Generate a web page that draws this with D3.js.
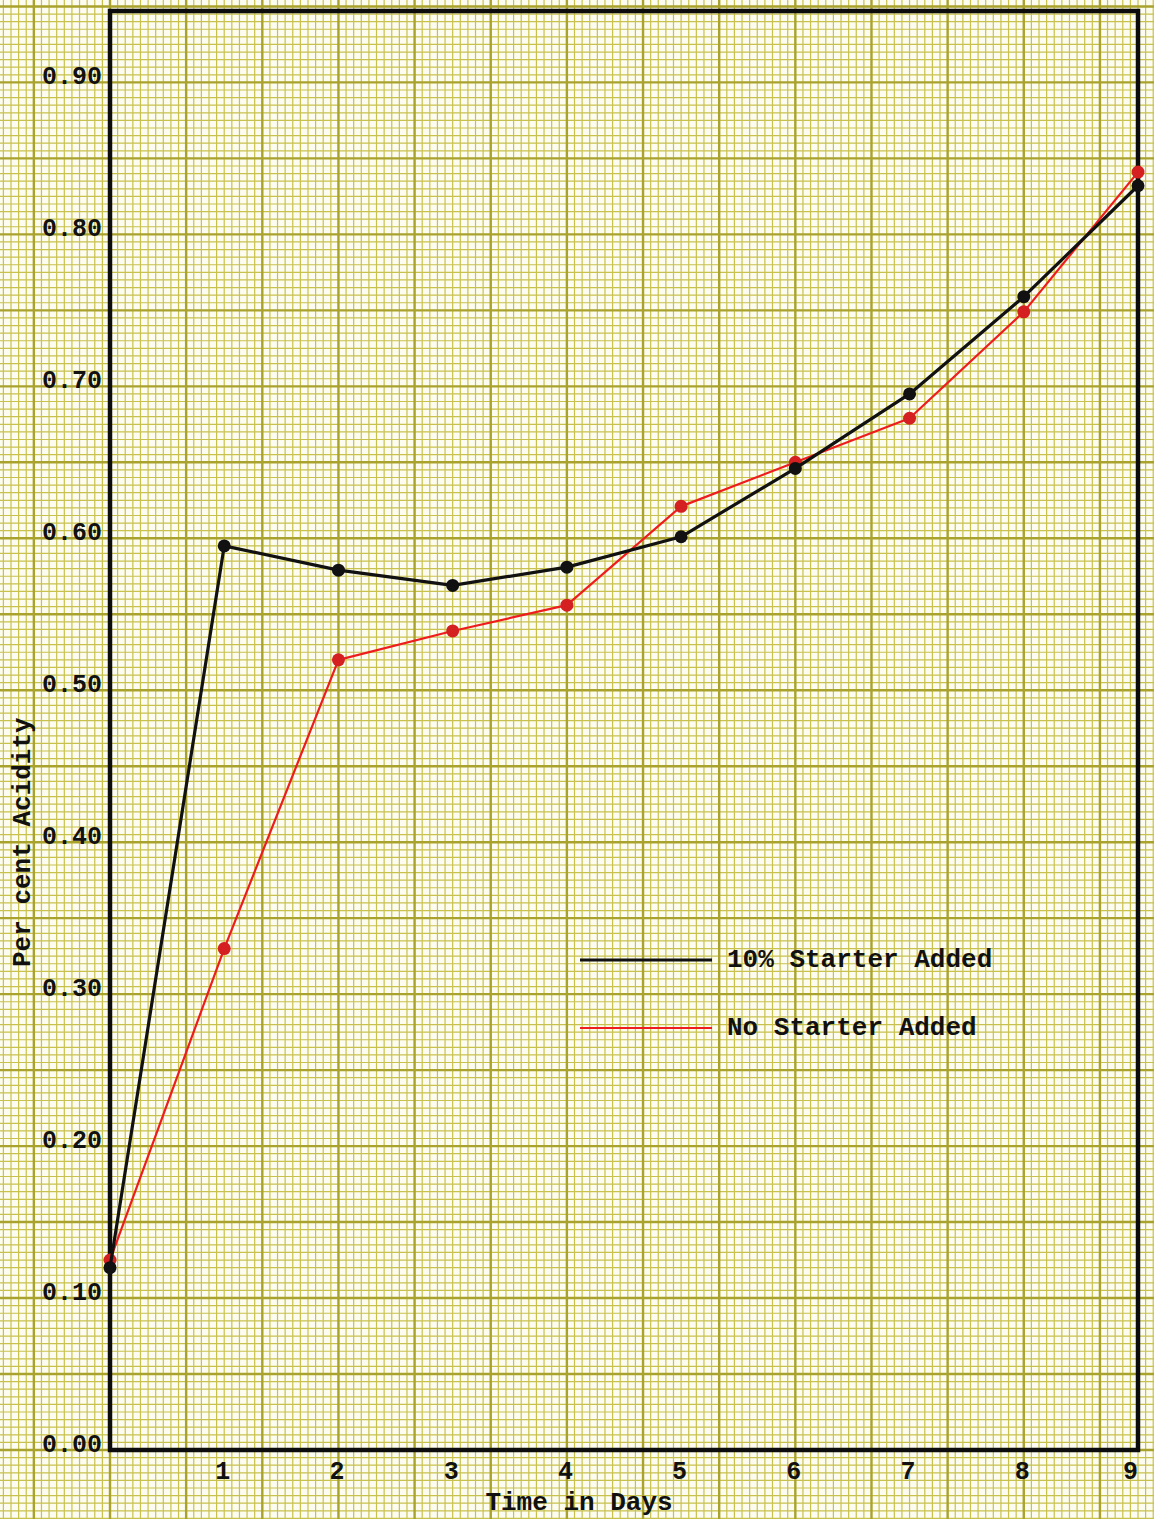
<!DOCTYPE html>
<html>
<head>
<meta charset="utf-8">
<script src="https://cdn.jsdelivr.net/npm/d3@7"></script>
<style>
  html, body { margin: 0; padding: 0; background: #fcfcf1; }
  svg { display: block; }
  text { font-family: "Liberation Mono", "DejaVu Sans Mono", monospace; fill: #111; }
</style>
</head>
<body>
<div id="chart"></div>
<script>
// ============================================================
//  Data
// ============================================================

const days = [0, 1, 2, 3, 4, 5, 6, 7, 8, 9];
const starterAcidity = [0.120, 0.595, 0.579, 0.569, 0.581, 0.601, 0.646, 0.695, 0.759, 0.832];
const noStarterAcidity = [0.125, 0.330, 0.520, 0.539, 0.556, 0.621, 0.650, 0.679, 0.749, 0.841];
const xTicks = [1, 2, 3, 4, 5, 6, 7, 8, 9];
const yTicks = [0, 0.1, 0.2, 0.3, 0.4, 0.5, 0.6, 0.7, 0.8, 0.9];
const seriesNames = ['10% Starter Added', 'No Starter Added'];

// ============================================================
//  Layout
// ============================================================

const width = 1154;
const height = 1519;
const margin = { top: 11, right: 16, bottom: 69, left: 110 };

const x = d3.scaleLinear().domain([0, 9]).range([margin.left, width - margin.right]);
const y = d3.scaleLinear().domain([0, 0.947]).range([height - margin.bottom, margin.top]);

const svg = d3.select('#chart').append('svg')
  .attr('width', width)
  .attr('height', height);

svg.append('rect')
  .attr('width', width).attr('height', height)
  .attr('fill', '#fcfcf1');

// ============================================================
//  Graph paper (10 minor squares per major, 1.5 majors per day)
// ============================================================

const grid = svg.append('g').attr('class', 'paper');
const xStep = 1 / 15;   // minor square in days
const yStep = 0.005;    // minor square in acidity
const xLo = Math.floor(x.invert(0) / xStep), xHi = Math.ceil(x.invert(width) / xStep);
const yLo = Math.floor(y.invert(height) / yStep), yHi = Math.ceil(y.invert(0) / yStep);

const vLines = d3.range(xLo, xHi + 1);
const hLines = d3.range(yLo, yHi + 1);

// minor first, majors on top
grid.selectAll('.vminor').data(vLines.filter(i => i % 10 !== 0)).join('line')
  .attr('x1', i => x(i * xStep)).attr('x2', i => x(i * xStep))
  .attr('y1', 0).attr('y2', height)
  .attr('stroke', '#c8c14e').attr('stroke-width', 1.2);
grid.selectAll('.hminor').data(hLines.filter(i => i % 10 !== 0)).join('line')
  .attr('y1', i => y(i * yStep)).attr('y2', i => y(i * yStep))
  .attr('x1', 0).attr('x2', width)
  .attr('stroke', '#c8c14e').attr('stroke-width', 1.2);
grid.selectAll('.vmajor').data(vLines.filter(i => i % 10 === 0)).join('line')
  .attr('x1', i => x(i * xStep)).attr('x2', i => x(i * xStep))
  .attr('y1', 0).attr('y2', height)
  .attr('stroke', '#a9a22c').attr('stroke-width', 2.4);
grid.selectAll('.hmajor').data(hLines.filter(i => i % 10 === 0)).join('line')
  .attr('y1', i => y(i * yStep)).attr('y2', i => y(i * yStep))
  .attr('x1', 0).attr('x2', width)
  .attr('stroke', '#a9a22c').attr('stroke-width', 2.4);

// ============================================================
//  Frame + tick labels
// ============================================================

svg.append('rect')
  .attr('x', x(0)).attr('y', y(0.947))
  .attr('width', x(9) - x(0)).attr('height', y(0) - y(0.947))
  .attr('fill', 'none')
  .attr('stroke', '#0c0c0c')
  .attr('stroke-width', 4.5);

const xAxis = svg.append('g')
  .attr('transform', `translate(0,${y(0)})`)
  .call(d3.axisBottom(x).tickValues(xTicks).tickSize(0).tickPadding(0).tickFormat(d3.format('d')));
xAxis.select('.domain').remove();
xAxis.selectAll('text')
  .attr('font-family', '"Liberation Mono", monospace')
  .attr('font-size', 25).attr('font-weight', 'bold')
  .attr('fill', '#111')
  .attr('dx', d => d === 9 ? -8 : -2).attr('dy', 0).attr('y', 29);

const yAxis = svg.append('g')
  .attr('transform', `translate(${x(0)},0)`)
  .call(d3.axisLeft(y).tickValues(yTicks).tickSize(0).tickPadding(8).tickFormat(d3.format('.2f')));
yAxis.select('.domain').remove();
yAxis.selectAll('text')
  .attr('font-family', '"Liberation Mono", monospace')
  .attr('font-size', 25).attr('font-weight', 'bold')
  .attr('fill', '#111')
  .attr('dy', 1);

svg.append('text')
  .attr('transform', `translate(30,${y(0.40)}) rotate(-90)`)
  .attr('text-anchor', 'middle')
  .attr('font-size', 26).attr('font-weight', 'bold')
  .text('Per cent Acidity');

svg.append('text')
  .attr('x', 579).attr('y', 1510)
  .attr('text-anchor', 'middle')
  .attr('font-size', 26).attr('font-weight', 'bold')
  .text('Time in Days');

// ============================================================
//  Series
// ============================================================

const series = [
  { name: seriesNames[0], values: starterAcidity, line: '#111', dot: '#111', width: 3.2 },
  { name: seriesNames[1], values: noStarterAcidity, line: '#ee1c1c', dot: '#d42020', width: 2.2 },
];

const line = d3.line()
  .x(d => x(d.day))
  .y(d => y(d.val));

series.slice().reverse().forEach(s => {
  const pts = days.map((d, i) => ({ day: d, val: s.values[i] }));
  svg.append('path')
    .datum(pts)
    .attr('fill', 'none')
    .attr('stroke', s.line)
    .attr('stroke-width', s.width)
    .attr('stroke-linejoin', 'round')
    .attr('d', line);
  svg.append('g').selectAll('circle')
    .data(pts)
    .join('circle')
    .attr('cx', d => x(d.day))
    .attr('cy', d => y(d.val))
    .attr('r', 6.5)
    .attr('fill', s.dot);
});

// ============================================================
//  Legend
// ============================================================

const legend = svg.append('g');
series.forEach((s, i) => {
  const ly = 960 + i * 68;
  legend.append('line')
    .attr('x1', 580).attr('x2', 712)
    .attr('y1', ly).attr('y2', ly)
    .attr('stroke', s.line)
    .attr('stroke-width', i === 0 ? 3.2 : 2.2);
  legend.append('text')
    .attr('x', 727).attr('y', ly + 7)
    .attr('font-size', 26).attr('font-weight', 'bold')
    .text(s.name);
});
</script>
</body>
</html>
